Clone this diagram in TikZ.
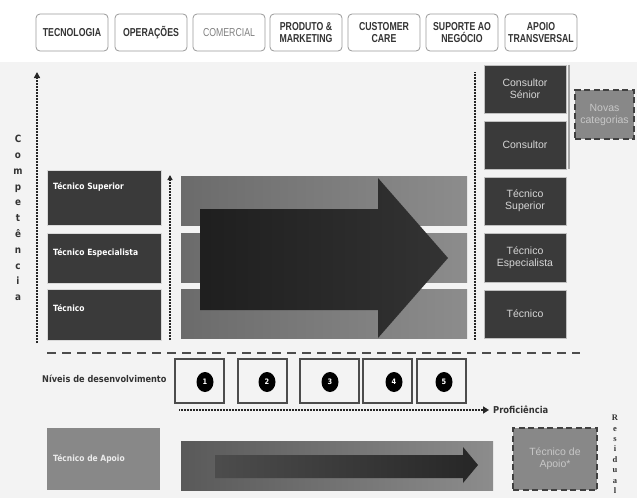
\documentclass[tikz,border=0pt]{standalone}
\usepackage{fontspec}
\setmainfont{Liberation Sans}
\newfontfamily\condfont[FakeStretch=0.76]{Liberation Sans}
\newfontfamily\boldfont[FakeStretch=0.88]{DejaVu Sans}
\newfontfamily\letterfont{Liberation Serif}
\usetikzlibrary{arrows.meta,shapes.geometric}
\definecolor{panel}{HTML}{F3F3F3}
\definecolor{darkbox}{HTML}{3A3A3A}
\definecolor{midbox}{HTML}{888888}
\definecolor{lighttext}{HTML}{D6D6D6}

\begin{document}
\begin{tikzpicture}[x=1pt,y=-1pt]
	\tikzstyle{every node}=[inner sep=0pt]
	\tikzstyle{area}=[draw=black!40,line width=0.8pt,rounded corners=4pt,fill=white,minimum width=72pt,minimum height=37pt,align=center,text=black!80,font=\condfont\bfseries\fontsize{11.5}{11.5}\selectfont]
	\tikzstyle{dkbox}=[fill=darkbox,draw=black!15,line width=0.6pt,minimum width=114pt]
	\tikzstyle{dklabel}=[anchor=west,text=white,font=\boldfont\bfseries\fontsize{8.6}{10}\selectfont]
	\tikzstyle{band}=[left color=black!58,right color=black!45,minimum width=286pt,minimum height=49pt]
	\tikzstyle{rbox}=[fill=darkbox,draw=black!25,line width=0.8pt,minimum width=82pt,minimum height=48pt,align=center,text=lighttext,font=\fontsize{10.5}{12}\selectfont]
	\tikzstyle{newbox}=[fill=midbox,draw=black!75,line width=1.6pt,dash pattern=on 6pt off 3.5pt,align=center,text=black!22,font=\fontsize{10.5}{12}\selectfont]
	\tikzstyle{lvl}=[draw=black!70,line width=1.3pt,minimum height=44pt,minimum width=49pt]
	\tikzstyle{num}=[ellipse,fill=black,text=white,minimum width=17pt,minimum height=20pt,font=\boldfont\bfseries\fontsize{7.5}{7.5}\selectfont]
	\tikzstyle{dots}=[line width=2pt,dash pattern=on 1pt off 0.5pt,black!85]
	\useasboundingbox (0,0) rectangle (637,498);
	\fill[white] (0,0) rectangle (637,498);
	\fill[panel] (0,62) rectangle (637,498);

	% areas
	\node[area] (tec) at (72,32.5) {TECNOLOGIA};
	\node[area] (ope) at (151,32.5) {OPERAÇÕES};
	\node[area,text=black!50,font=\condfont\fontsize{11.5}{11.5}\selectfont] (com) at (229,32.5) {COMERCIAL};
	\node[area] (pro) at (306,32.5) {PRODUTO \&\\MARKETING};
	\node[area] (cus) at (384,32.5) {CUSTOMER\\CARE};
	\node[area] (sup) at (462,32.5) {SUPORTE AO\\NEGÓCIO};
	\node[area] (apo) at (541,32.5) {APOIO\\TRANSVERSAL};

	% current categories
	\node[dkbox,minimum height=55pt] (ls) at (104,197.5) {};
	\node[dkbox,minimum height=50pt] (le) at (104,258) {};
	\node[dkbox,minimum height=51pt] (lt) at (104,314.5) {};
	\node[dklabel] (lsT) at (53,187) {Técnico Superior};
	\node[dklabel] (leT) at (53,253) {Técnico Especialista};
	\node[dklabel] (ltT) at (53,308) {Técnico};
	\node[anchor=north,align=center,text=black!80,font=\boldfont\bfseries\fontsize{10}{15.8}\selectfont] (comp) at (18,135) {C\\o\\m\\p\\e\\t\\ê\\n\\c\\i\\a};
	\coordinate (cb) at (37,343);
	\coordinate (ct) at (37,72);
	\draw[dots,-{Triangle[length=6pt,width=6pt]}] (cb) -- (ct);
	\coordinate (sb) at (170,340);
	\coordinate (st) at (170,175);
	\draw[dots,line width=1.5pt,-{Triangle[length=5pt,width=5pt]}] (sb) -- (st);

	% transition
	\node[band] (b1) at (324,200.5) {};
	\node[band] (b2) at (324,257.5) {};
	\node[band] (b3) at (324,313.5) {};
	\shade[left color=black!88,right color=black!80] (200,209) -- (378,209) -- (378,178) -- (448,258) -- (378,338) -- (378,310) -- (200,310) -- cycle;

	% new categories
	\coordinate (rt) at (475,72);
	\coordinate (rb) at (475,340);
	\draw[dots,line width=1.5pt] (rt) -- (rb);
	\node[rbox] (cs) at (525,89) {Consultor\\Sénior};
	\node[rbox] (cn) at (525,145) {Consultor};
	\node[rbox] (rs) at (525,201) {Técnico\\Superior};
	\node[rbox,minimum height=49pt] (re) at (525,257.5) {Técnico\\Especialista};
	\node[rbox] (rtc) at (525,314) {Técnico};
	\draw[black!35,line width=1.5pt] ([xshift=2.5pt]cs.north east) -- ([xshift=2.5pt]cn.south east);
	\node[newbox,minimum width=59pt,minimum height=49pt] (nov) at (604.5,114.5) {Novas\\categorias};

	% levels
	\coordinate (sl) at (47,353);
	\coordinate (sr) at (580,353);
	\draw[black!70,line width=1.8pt,dash pattern=on 9pt off 6pt] (sl) -- (sr);
	\node[anchor=west,text=black!80,font=\boldfont\bfseries\fontsize{9.3}{10}\selectfont] (niv) at (42,379) {Níveis de desenvolvimento};
	\node[lvl] (l1) at (199.5,381) {};
	\node[lvl] (l2) at (262.5,381) {};
	\node[lvl,minimum width=59pt] (l3) at (329.5,381) {};
	\node[lvl] (l4) at (387.5,381) {};
	\node[lvl] (l5) at (441.5,381) {};
	\node[num] (n1) at (205,382) {1};
	\node[num] (n2) at (267,382) {2};
	\node[num] (n3) at (330,382) {3};
	\node[num] (n4) at (394,382) {4};
	\node[num] (n5) at (444,382) {5};
	\node[anchor=west,text=black!80,font=\boldfont\bfseries\fontsize{9.5}{10}\selectfont] (prof) at (493,410) {Proficiência};
	\coordinate (pl) at (179,410);
	\draw[dots,line width=2.6pt,shorten >=4pt,-{Triangle[length=6pt,width=7pt]}] (pl) -- (prof.west);

	% support
	\node[fill=midbox,minimum width=113pt,minimum height=62pt] (ap) at (103.5,459) {};
	\node[dklabel,text=white!92!black] (apT) at (53,459) {Técnico de Apoio};
	\node[left color=black!65,right color=black!45,minimum width=312pt,minimum height=49pt] (bb) at (337,465.5) {};
	\shade[left color=black!70,right color=black!85] (215,455) -- (463,455) -- (463,447) -- (478,465) -- (463,483) -- (463,478) -- (215,478) -- cycle;
	\node[newbox,minimum width=84pt,minimum height=62pt] (apx) at (555,459) {Técnico de\\Apoio*};
	\node[anchor=north,align=center,text=black!80,font=\letterfont\bfseries\fontsize{8.5}{10.4}\selectfont] (res) at (615,415) {R\\e\\s\\i\\d\\u\\a\\l};
\end{tikzpicture}
\end{document}
